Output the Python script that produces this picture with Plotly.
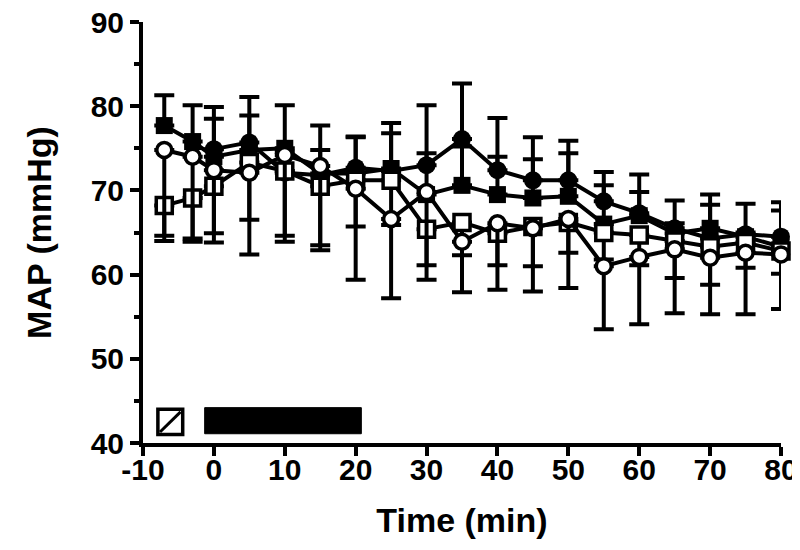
import plotly.graph_objects as go

# Time points (min)
t_all = [-7, -3, 0, 5, 10, 15, 20, 25, 30, 35, 40, 45, 50, 55, 60, 65, 70, 75, 80]
t_from0 = [0, 5, 10, 15, 20, 25, 30, 35, 40, 45, 50, 55, 60, 65, 70, 75, 80]

# Filled squares
sq_fill = [77.7, 75.8, 74.0, 74.8, 75.0, 72.0, 72.0, 72.6, 69.5, 70.6, 69.5, 69.1, 69.3, 66.0, 67.0, 64.9, 65.5, 64.5, 63.3]
sq_fill_err = [3.6, 4.3, 5.9, 4.1, 5.1, 5.7, 4.3, 5.4, 4.9, 4.6, 4.5, 4.6, 5.1, 4.6, 4.9, 1.2, 4.0, 0.5, 4.3]

# Filled circles
ci_fill = [74.9, 75.7, 72.1, 71.8, 72.7, 72.3, 73.0, 76.1, 72.4, 71.2, 71.2, 68.7, 67.3, 65.5, 64.3, 64.8, 64.5]
ci_fill_err = [3.6, 5.4, 2.5, 3.0, 3.7, 4.5, 7.1, 6.6, 6.2, 5.1, 4.7, 3.5, 2.5, 3.3, 4.0, 3.6, 4.1]

# Open squares
sq_open = [68.2, 69.1, 70.5, 73.3, 72.3, 70.5, 71.2, 71.2, 65.4, 66.2, 64.9, 65.7, 66.2, 65.0, 64.7, 64.0, 63.3, 63.8, 62.8]
sq_open_err = [3.6, 4.8, 5.6, 6.8, 7.7, 7.0, 5.5, 5.3, 4.3, 3.9, 3.8, 4.7, 3.6, 3.2, 3.6, 4.4, 4.5, 3.0, 2.7]

# Open circles
ci_open = [74.8, 74.0, 72.4, 72.1, 74.2, 72.9, 70.2, 66.6, 69.8, 63.9, 66.1, 65.5, 66.6, 61.0, 62.1, 63.0, 62.0, 62.6, 62.4]
ci_open_err = [10.8, 10.1, 8.6, 9.7, 10.3, 10.0, 10.8, 9.4, 10.4, 6.0, 7.9, 7.5, 8.2, 7.5, 8.0, 7.6, 6.7, 7.3, 6.5]

x_ticks = [-10, 0, 10, 20, 30, 40, 50, 60, 70, 80]
x_ticktext = ["-10", "0", "10", "20", "30", "40", "50", "60", "70", "80"]
y_ticks = [40, 50, 60, 70, 80, 90]

BLACK = "#000000"
LW = 4


def errs(n):
    return [0] * n


fig = go.Figure()

fig.add_trace(go.Scatter(
    x=t_all, y=sq_fill, mode="lines+markers", cliponaxis=False,
    line=dict(color=BLACK, width=LW),
    marker=dict(symbol="square", size=17, color=BLACK),
    error_y=dict(type="data", symmetric=False, array=sq_fill_err, arrayminus=errs(len(sq_fill)),
                 color=BLACK, thickness=LW, width=10),
    showlegend=False))

fig.add_trace(go.Scatter(
    x=t_from0, y=ci_fill, mode="lines+markers", cliponaxis=False,
    line=dict(color=BLACK, width=LW),
    marker=dict(symbol="circle", size=18, color=BLACK),
    error_y=dict(type="data", symmetric=False, array=ci_fill_err, arrayminus=errs(len(ci_fill)),
                 color=BLACK, thickness=LW, width=10),
    showlegend=False))

fig.add_trace(go.Scatter(
    x=t_all, y=sq_open, mode="lines+markers", cliponaxis=False,
    line=dict(color=BLACK, width=LW),
    marker=dict(symbol="square", size=16, color="white", line=dict(color=BLACK, width=3.5)),
    error_y=dict(type="data", symmetric=False, array=errs(len(sq_open)), arrayminus=sq_open_err,
                 color=BLACK, thickness=LW, width=10),
    showlegend=False))

fig.add_trace(go.Scatter(
    x=t_all, y=ci_open, mode="lines+markers", cliponaxis=False,
    line=dict(color=BLACK, width=LW),
    marker=dict(symbol="circle", size=15, color="white", line=dict(color=BLACK, width=3.5)),
    error_y=dict(type="data", symmetric=False, array=errs(len(ci_open)), arrayminus=ci_open_err,
                 color=BLACK, thickness=LW, width=10),
    showlegend=False))

# Period markers at bottom of plot
fig.add_shape(type="rect", xref="x", yref="y", x0=-7.9, x1=-4.4, y0=41.0, y1=44.0,
              line=dict(color=BLACK, width=3.5), fillcolor="white")
fig.add_shape(type="line", xref="x", yref="y", x0=-7.6, x1=-4.7, y0=41.3, y1=43.7,
              line=dict(color=BLACK, width=3))
fig.add_shape(type="rect", xref="x", yref="y", x0=-1.3, x1=20.8, y0=41.1, y1=44.2,
              line=dict(color=BLACK, width=1), fillcolor=BLACK)

font_main = dict(family="Liberation Sans, Arial, sans-serif", color=BLACK, weight="bold")

# page body has an 8px margin, so the figure is sized to fit inside 800x550
fig.update_layout(
    width=792, height=542,
    margin=dict(l=135, r=19, t=14, b=107),
    paper_bgcolor="white", plot_bgcolor="white",
    font=dict(**font_main, size=30),
    xaxis=dict(
        range=[-10, 80], tickvals=x_ticks, ticktext=x_ticktext,
        automargin=False, ticklabeloverflow="allow",
        showline=True, linecolor=BLACK, linewidth=4,
        ticks="outside", ticklen=9, tickwidth=4, tickcolor=BLACK,
        ticklabelstandoff=-12,
        showgrid=False, zeroline=False,
        tickfont=dict(**font_main, size=30),
        title=dict(text="Time (min)", font=dict(**font_main, size=34), standoff=24),
    ),
    yaxis=dict(
        range=[40, 90], tickvals=y_ticks,
        automargin=False, ticklabeloverflow="allow",
        showline=True, linecolor=BLACK, linewidth=4,
        ticks="outside", ticklen=9, tickwidth=4, tickcolor=BLACK,
        minor=dict(dtick=5, ticks="outside", ticklen=5, tickwidth=4, tickcolor=BLACK, showgrid=False),
        showgrid=False, zeroline=False,
        tickfont=dict(**font_main, size=30),
        title=dict(text="MAP (mmHg)", font=dict(**font_main, size=34), standoff=30),
    ),
)

fig.write_html("out.html")
